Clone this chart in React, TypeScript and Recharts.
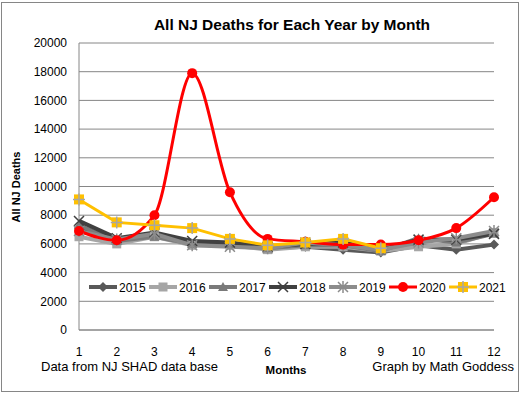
import React from "react";
import { LineChart, Line, XAxis, YAxis, CartesianGrid } from "recharts";

const months = [1, 2, 3, 4, 5, 6, 7, 8, 9, 10, 11, 12];
const yTicks = [0, 2000, 4000, 6000, 8000, 10000, 12000, 14000, 16000, 18000, 20000];

const d2015 = [7100, 6200, 6600, 6000, 6000, 5700, 5800, 5600, 5400, 5900, 5600, 5950];
const d2016 = [6500, 6000, 6500, 5900, 5900, 5600, 5800, 5800, 5500, 5800, 6000, 6800];
const d2017 = [7300, 6200, 6500, 6000, 6000, 5700, 5900, 5900, 5500, 6400, 6100, 6700];
const d2018 = [7600, 6400, 6800, 6200, 6100, 5800, 6000, 6100, 5600, 6300, 6300, 6700];
const d2019 = [6900, 6300, 6700, 5900, 5800, 5700, 6100, 5900, 5600, 6100, 6400, 6900];
const d2020 = [6900, 6250, 8000, 17900, 9600, 6350, 6150, 5950, 5950, 6250, 7100, 9250];
const d2021 = [9100, 7500, 7300, 7100, 6350, 5900, 6100, 6350, 5700];

type Shape = "diamond" | "square" | "triangle" | "x" | "star" | "circle" | "plusSquare";

const series: { key: string; values: number[]; color: string; shape: Shape; width: number; type: "linear" | "monotone" }[] = [
  { key: "2015", values: d2015, color: "#595959", shape: "diamond", width: 4, type: "linear" },
  { key: "2016", values: d2016, color: "#A6A6A6", shape: "square", width: 4, type: "linear" },
  { key: "2017", values: d2017, color: "#7A7A7A", shape: "triangle", width: 4, type: "linear" },
  { key: "2018", values: d2018, color: "#404040", shape: "x", width: 4, type: "linear" },
  { key: "2019", values: d2019, color: "#8C8C8C", shape: "star", width: 4, type: "linear" },
  { key: "2020", values: d2020, color: "#FF0000", shape: "circle", width: 3, type: "monotone" },
  { key: "2021", values: d2021, color: "#FFC000", shape: "plusSquare", width: 3, type: "linear" },
];

const data = months.map((m, i) => {
  const row: Record<string, number | null> = { month: m };
  series.forEach((s) => {
    row[s.key] = i < s.values.length ? s.values[i] : null;
  });
  return row;
});

function Marker({ x, y, shape, color }: { x: number; y: number; shape: Shape; color: string }) {
  switch (shape) {
    case "diamond":
      return <polygon points={`${x},${y - 5} ${x + 5},${y} ${x},${y + 5} ${x - 5},${y}`} fill={color} />;
    case "square":
      return <rect x={x - 4.5} y={y - 4.5} width={9} height={9} fill={color} />;
    case "triangle":
      return <polygon points={`${x},${y - 5} ${x + 5},${y + 4} ${x - 5},${y + 4}`} fill={color} />;
    case "x":
      return (
        <path d={`M${x - 5},${y - 5}L${x + 5},${y + 5}M${x + 5},${y - 5}L${x - 5},${y + 5}`} stroke={color} strokeWidth={1.5} />
      );
    case "star":
      return (
        <path
          d={`M${x - 5},${y - 5}L${x + 5},${y + 5}M${x + 5},${y - 5}L${x - 5},${y + 5}M${x},${y - 6}L${x},${y + 6}`}
          stroke={color}
          strokeWidth={1.5}
        />
      );
    case "circle":
      return <circle cx={x} cy={y} r={5} fill={color} />;
    case "plusSquare":
      return (
        <g>
          <rect x={x - 5} y={y - 5} width={10} height={10} fill={color} />
          <path d={`M${x - 6},${y}L${x + 6},${y}M${x},${y - 6}L${x},${y + 6}`} stroke="#A6A6A6" strokeWidth={1.5} />
        </g>
      );
  }
}

const font = "'Liberation Sans', Arial, sans-serif";

export default function App() {
  return (
    <div style={{ position: "absolute", left: 0, top: 0, width: 527, height: 394, background: "#fff", fontFamily: font }}>
      <div
        style={{
          position: "absolute", left: 1, top: 2, width: 516, height: 388,
          border: "1px solid #868686",
        }}
      />
      <LineChart width={527} height={394} data={data} margin={{ top: 43, right: 33, left: 0, bottom: 20 }}>
        <CartesianGrid vertical={false} stroke="#868686" />
        <XAxis
          dataKey="month"
          type="number"
          domain={[1, 12]}
          ticks={months}
          interval={0}
          tickLine={false}
          tickSize={0}
          tickMargin={17}
          height={44}
          axisLine={{ stroke: "#868686" }}
          tick={{ fontSize: 12, fill: "#000", fontFamily: font }}
        />
        <YAxis
          domain={[0, 20000]}
          ticks={yTicks}
          interval={0}
          tickLine={false}
          tickSize={0}
          tickMargin={12}
          width={79}
          axisLine={{ stroke: "#868686" }}
          tick={{ fontSize: 12, fill: "#000", fontFamily: font }}
        />
        {series.map((s) => (
          <Line
            key={s.key}
            dataKey={s.key}
            type={s.type}
            stroke={s.color}
            strokeWidth={s.width}
            isAnimationActive={false}
            dot={(p: any) =>
              p.cy == null ? (
                <g key={`${s.key}-${p.index}`} />
              ) : (
                <g key={`${s.key}-${p.index}`}>
                  <Marker x={p.cx} y={p.cy} shape={s.shape} color={s.color} />
                </g>
              )
            }
            activeDot={false}
          />
        ))}
      </LineChart>
      <svg style={{ position: "absolute", left: 0, top: 0 }} width={527} height={394}>
        {series.map((s, i) => {
          const x0 = 89 + i * 60;
          const y0 = 287;
          return (
            <g key={s.key}>
              <line x1={x0} y1={y0} x2={x0 + 28} y2={y0} stroke={s.color} strokeWidth={s.width} />
              <Marker x={x0 + 14} y={y0} shape={s.shape} color={s.color} />
              <text x={x0 + 30} y={y0 + 4.5} fontSize={12} fontFamily={font} fill="#000">
                {s.key}
              </text>
            </g>
          );
        })}
        <text x={292} y={30} textAnchor="middle" fontSize={15.5} fontWeight="bold" fontFamily={font} fill="#000">
          All NJ Deaths for Each Year by Month
        </text>
        <text
          x={20}
          y={187}
          textAnchor="middle"
          fontSize={11}
          fontWeight="bold"
          fontFamily={font}
          fill="#000"
          transform="rotate(-90 20 187)"
        >
          All NJ Deaths
        </text>
        <text x={41} y={370.5} fontSize={13} fontFamily={font} fill="#000">
          Data from NJ SHAD data base
        </text>
        <text x={286} y={374} textAnchor="middle" fontSize={11.5} fontWeight="bold" fontFamily={font} fill="#000">
          Months
        </text>
        <text x={514} y={370.5} textAnchor="end" fontSize={13} fontFamily={font} fill="#000">
          Graph by Math Goddess
        </text>
      </svg>
    </div>
  );
}
